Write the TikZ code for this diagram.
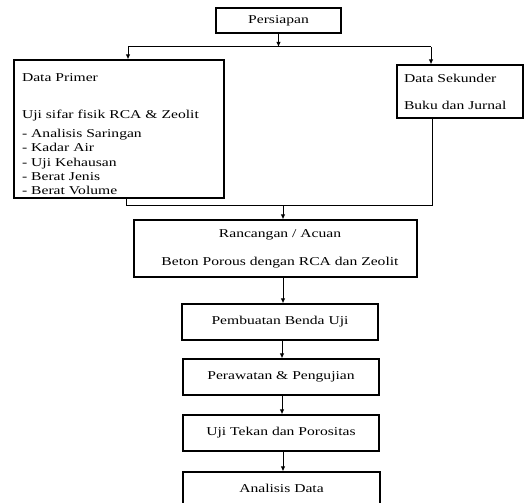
\documentclass[tikz,border=0pt]{standalone}
\usepackage{fontspec}
\setmainfont{Liberation Serif}[FakeStretch=1.3]
\usetikzlibrary{arrows.meta}
\begin{document}
\begin{tikzpicture}[x=1pt,y=-1pt,
  box/.style={draw,line width=1.2pt,inner sep=0pt,font=\fontsize{12}{14.3}\selectfont},
  arr/.style={line width=1pt,-{Latex[length=5pt,width=4.5pt]}},
  ln/.style={line width=1pt}]
\clip (0,0) rectangle (525,503);
\fill[white] (0,0) rectangle (525,503);
% boxes
\node[box,minimum width=125pt,minimum height=25pt] (pers) at (278.5,20.5) {Persiapan};
\node[box,minimum width=210pt,minimum height=138pt,align=left,text width=194pt] (dp) at (119,129)
  {\rule{0pt}{18pt}Data Primer\\[23pt]Uji sifar fisik RCA \& Zeolit\\[5pt]- Analisis Saringan\\- Kadar Air\\- Uji Kehausan\\- Berat Jenis\\- Berat Volume};
\node[box,minimum width=126pt,minimum height=53pt,align=left,text width=112pt] (ds) at (460,91.5)
  {Data Sekunder\\[12.7pt]Buku dan Jurnal};
\node[box,minimum width=283pt,minimum height=57pt,align=center] (ranc) at (275.5,248.5)
  {\hspace*{9pt}Rancangan / Acuan\\[13.7pt]\hspace*{9pt}Beton Porous dengan RCA dan Zeolit};
\node[box,minimum width=196pt,minimum height=36pt] (pemb) at (280,322) {Pembuatan Benda Uji};
\node[box,minimum width=196pt,minimum height=36pt] (pera) at (281,377) {Perawatan \& Pengujian};
\node[box,minimum width=196pt,minimum height=36pt] (uji) at (281,433) {Uji Tekan dan Porositas};
\node[box,minimum width=197pt,minimum height=36pt] (anal) at (281.5,490) {\raisebox{4pt}{Analisis Data}};
% connectors top
\coordinate (j1) at (278.5,47);
\coordinate (jl) at (128,47);
\coordinate (jr) at (431,47);
\draw[arr] (pers.south) -- (j1);
\draw[ln] (jl) -- (jr);
\draw[arr] (jl) -- (jl |- dp.north);
\draw[arr] (jr) -- (jr |- ds.north);
% merge
\coordinate (ml) at (126,205);
\coordinate (mr) at (432,205);
\coordinate (mm) at (283,205);
\draw[ln] (ml |- dp.south) -- (ml) -- (mr) -- (mr |- ds.south);
\draw[arr] (mm) -- (mm |- ranc.north);
% chain
\draw[arr] (283,277) coordinate (c1) -- (c1 |- pemb.north);
\draw[arr] (282,340) coordinate (c2) -- (c2 |- pera.north);
\draw[arr] (282,395) coordinate (c3) -- (c3 |- uji.north);
\draw[arr] (283,451) coordinate (c4) -- (c4 |- anal.north);
\end{tikzpicture}
\end{document}
